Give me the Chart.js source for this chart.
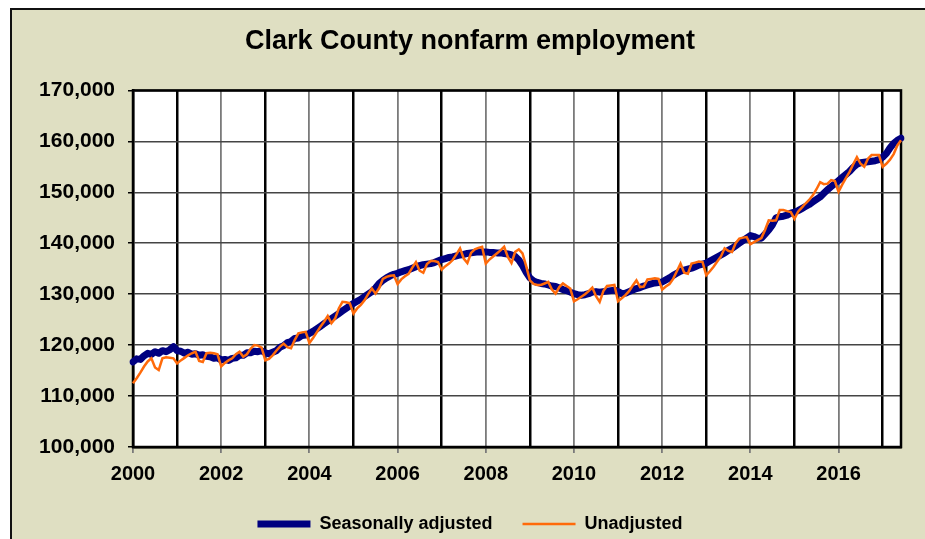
<!DOCTYPE html>
<html>
<head>
    <title>Clark County nonfarm employment</title>
    <script src="https://cdn.jsdelivr.net/npm/chart.js"></script>
    <style>
        body { margin: 0; background: #ffffff; }
        #frame {
            position: absolute; left: 10px; top: 8px; width: 920px; height: 540px;
            background: #dfdfc2; border-left: 2px solid #111; border-top: 2px solid #111;
        }
        #chart { position: absolute; left: 0; top: 0; }
    </style>
</head>
<body>
    <div id="frame"></div>
    <canvas id="chart" width="925" height="539"></canvas>

    <script>
        // monthly values, Jan 2000 - Jun 2017
        var years = [2000, 2001, 2002, 2003, 2004, 2005, 2006, 2007, 2008, 2009,
                     2010, 2011, 2012, 2013, 2014, 2015, 2016, 2017];
        var monthsInLastYear = 6;
        var xTickLabels = ['2000', '2002', '2004', '2006', '2008', '2010', '2012', '2014', '2016'];

        var seasonallyAdjusted = [
            116700, 117300, 117200, 117900, 118400, 118200, 118700, 118400, 118900, 118700, 119100, 119700,
            118900, 118800, 118400, 118600, 118200, 118300, 118000, 118100, 117800, 117700, 117400, 117500,
            117100, 117200, 117000, 117400, 117500, 118000, 118000, 118500, 118500, 118800, 118700, 118900,
            118500, 118300, 118600, 118900, 119600, 119900, 120500, 120700, 121300, 121400, 121900, 122000,
            122300, 122700, 123200, 123700, 124200, 124700, 125200, 125700, 126200, 126700, 127200, 127700,
            128200, 128600, 129000, 129500, 130000, 130500, 131200, 132100, 132700, 133200, 133600, 133900,
            134100, 134400, 134600, 134800, 135100, 135400, 135600, 135800, 135900, 136000, 136200, 136500,
            136800, 137000, 137200, 137300, 137500, 137700, 137800, 138000, 138100, 138200, 138300, 138300,
            138300, 138200, 138200, 138100, 138100, 138000, 137900, 137700, 137400, 136700, 135600, 134300,
            133200, 132600, 132300, 132100, 132000, 131800, 131600, 131500, 131200, 130900, 130700, 130400,
            130100, 129900, 129800, 129900, 130100, 130400, 130500, 130400, 130500, 130600, 130700, 130800,
            130500, 130100, 130200, 130500, 130800, 131100, 131300, 131600, 131800, 132000, 132200, 132300,
            132400, 132800, 133200, 133700, 134100, 134500, 134700, 134900, 135100, 135400, 135700, 135900,
            136100, 136500, 136900, 137300, 137700, 138100, 138600, 139000, 139500, 140000, 140500, 141000,
            141500, 141300, 141000, 141000, 141800, 142600, 143600, 145000, 145200, 145300, 145500, 145900,
            146100, 146400, 146800, 147200, 147600, 148100, 148600, 149100, 149800, 150500, 151100, 151700,
            152300, 152900, 153500, 154100, 154900, 155500, 155800, 155900, 156000, 156100, 156200, 156400,
            156900, 157600, 158700, 159600, 160200, 160600
        ];

        var unadjusted = [
            112500, 113500, 114600, 115800, 116800, 117400, 115600, 115100, 117400, 117600, 117500, 117400,
            116400, 117000, 117500, 118000, 118400, 118700, 116900, 116700, 118400, 118500, 118400, 118200,
            115800, 116500, 117000, 117400, 118200, 118700, 117700, 118200, 119300, 120000, 119900, 119500,
            117000, 117300, 118000, 118900, 119700, 120300, 119600, 119400, 121000, 122300, 122500, 122600,
            120400, 121400, 122500, 123600, 124600, 125700, 124300, 125200, 127200, 128500, 128400, 128200,
            126200, 127200, 127900, 128800, 130000, 131100, 130100, 131200, 133000, 133400, 133600, 133700,
            132000, 132900, 133500, 134000, 135200, 136300, 134600, 134200, 135900, 136500, 136500, 136300,
            134800, 135500, 136000, 136700, 137800, 139000, 137000, 136100, 138100, 138800, 139100, 139300,
            136000, 136800, 137400, 138000, 138600, 139300, 137300, 136100, 138300, 138800, 138000, 135500,
            132700, 132000, 131800, 131800, 132100, 132400, 130900, 130100, 131400, 132100, 131600, 131100,
            128600, 129000, 129500, 130000, 130600, 131300, 129600, 128500, 130600, 131600, 131700, 131800,
            128600, 129200, 129800, 130600, 131700, 132700, 131400, 131500, 132900, 133000, 133100, 133000,
            130900, 131500, 132000, 133000, 134500, 136000, 134200, 134000, 136000, 136200, 136400, 136300,
            133700, 134500, 135400, 136400, 137400, 139000, 138500, 138300, 140000, 140900, 141100, 141200,
            139800, 140200, 140600, 141000, 142600, 144500, 144400, 144500, 146500, 146500, 146300, 146100,
            144800, 146200, 147000, 147800, 148500, 149400, 150600, 152000, 151600, 151700, 152400, 152200,
            150100, 151500, 152800, 154000, 155500, 156900, 155600, 155000, 156600, 157300, 157300, 157300,
            155000, 155600, 156400, 157500, 159200, 160200
        ];

        // month labels built from the year list
        var labels = [];
        for (var y = 0; y < years.length; y++) {
            var n = (y === years.length - 1) ? monthsInLastYear : 12;
            for (var m = 1; m <= n; m++) {
                labels.push(years[y] + '-' + (m < 10 ? '0' + m : m));
            }
        }

        Chart.defaults.font.family = "'Liberation Sans', Arial, sans-serif";
        Chart.defaults.font.weight = 'bold';
        Chart.defaults.color = '#000';

        // white plot area and black frame round it
        var plotFrame = {
            id: 'plotFrame',
            beforeDraw: function (chart) {
                var a = chart.chartArea, ctx = chart.ctx;
                ctx.save();
                ctx.fillStyle = '#ffffff';
                ctx.fillRect(a.left, a.top, a.right - a.left, a.bottom - a.top);
                ctx.restore();
            },
            beforeDatasetsDraw: function (chart) {
                var a = chart.chartArea, ctx = chart.ctx;
                ctx.save();
                ctx.strokeStyle = '#000';
                ctx.lineWidth = 2.5;
                ctx.strokeRect(a.left, a.top, a.right - a.left, a.bottom - a.top);
                ctx.restore();
            }
        };

        var ctx = document.getElementById('chart').getContext('2d');
        new Chart(ctx, {
            type: 'line',
            data: {
                labels: labels,
                datasets: [
                    {
                        label: 'Seasonally adjusted',
                        data: seasonallyAdjusted,
                        borderColor: '#000080',
                        backgroundColor: '#000080',
                        borderWidth: 7,
                        borderCapStyle: 'round',
                        borderJoinStyle: 'round',
                        pointRadius: 0,
                        fill: false,
                        order: 2
                    },
                    {
                        label: 'Unadjusted',
                        data: unadjusted,
                        borderColor: '#ff6a0a',
                        backgroundColor: '#ff6a0a',
                        borderWidth: 2.5,
                        pointRadius: 0,
                        fill: false,
                        order: 1
                    }
                ]
            },
            options: {
                responsive: false,
                animation: false,
                layout: { padding: { left: 39, right: 24, top: 0, bottom: -4 } },
                plugins: {
                    title: {
                        display: true,
                        text: 'Clark County nonfarm employment',
                        color: '#000',
                        font: { size: 27, weight: 'bold' },
                        padding: { top: 25, bottom: 33 }
                    },
                    legend: {
                        position: 'bottom',
                        labels: {
                            usePointStyle: true,
                            pointStyle: 'line',
                            pointStyleWidth: 53,
                            padding: 30,
                            color: '#000',
                            font: { size: 18, weight: 'bold' },
                            sort: function (a, b) { return a.datasetIndex - b.datasetIndex; }
                        }
                    },
                    tooltip: { enabled: false }
                },
                scales: {
                    x: {
                        type: 'category',
                        ticks: {
                            autoSkip: false,
                            maxRotation: 0,
                            padding: 9,
                            font: { size: 20, weight: 'bold' },
                            callback: function (value, index) {
                                return index % 24 === 0 ? xTickLabels[index / 24] : '';
                            }
                        },
                        grid: {
                            color: function (c) {
                                if (c.index % 24 === 0) return c.index === 0 ? '#000' : '#7a7a7a';
                                if (c.index % 12 === 0) return '#000';
                                return 'rgba(0,0,0,0)';
                            },
                            lineWidth: function (c) {
                                if (c.index % 24 === 0) return 1.8;
                                if (c.index % 12 === 0) return 2.5;
                                return 1;
                            },
                            tickColor: function (c) {
                                return c.index % 24 === 0 ? '#7a7a7a' : 'rgba(0,0,0,0)';
                            },
                            tickLength: 6
                        },
                        border: { display: true, color: '#000', width: 2.5 },
                        afterFit: function (scale) { scale.height = 38; }
                    },
                    y: {
                        min: 100000,
                        max: 170000,
                        ticks: {
                            stepSize: 10000,
                            padding: 13,
                            font: { size: 21, weight: 'bold' },
                            callback: function (v) { return v.toLocaleString('en-US'); }
                        },
                        grid: {
                            color: function (c) { return c.tick && c.tick.value === 170000 ? '#000' : '#444'; },
                            lineWidth: 1.5,
                            tickColor: '#000',
                            tickLength: 5
                        },
                        border: { display: true, color: '#000', width: 2.5 },
                        afterFit: function (scale) { scale.width = 94; }
                    }
                }
            },
            plugins: [plotFrame]
        });
    </script>
</body>
</html>
